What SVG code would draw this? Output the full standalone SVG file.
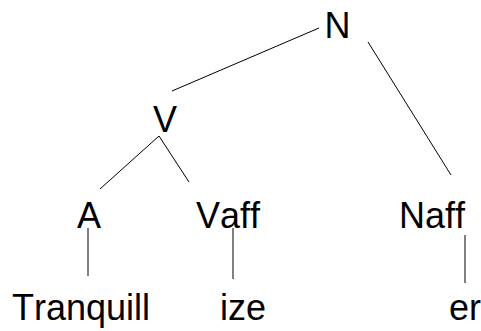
<svg xmlns="http://www.w3.org/2000/svg" width="481" height="331" viewBox="0 0 481 331">
<style>
text { font-family: "Liberation Sans", Arial, sans-serif; font-size: 36px; fill: #000; font-kerning: none; }
.edge { stroke: #000; stroke-width: 1; fill: none; }
</style>
<rect width="481" height="331" fill="#fff"/>
<g id="connectors">
<line class="edge" x1="319" y1="28" x2="172" y2="91"/>
<line class="edge" x1="368" y1="42" x2="451" y2="175"/>
<line class="edge" x1="159" y1="136" x2="100" y2="189"/>
<line class="edge" x1="159" y1="136" x2="189" y2="182"/>
<line class="edge" x1="88" y1="228" x2="88" y2="276"/>
<line class="edge" x1="233" y1="228" x2="233" y2="279"/>
<line class="edge" x1="465" y1="235" x2="465" y2="283"/>
</g>
<g id="node-N"><text x="324.5" y="38">N</text></g>
<g id="node-V"><text x="153" y="132">V</text></g>
<g id="node-A"><text x="77" y="228">A</text></g>
<g id="node-Vaff"><text x="196" y="228">Vaff</text></g>
<g id="node-Naff"><text x="399" y="228">Naff</text></g>
<g id="node-Tranquill"><text x="12" y="320">Tranquill</text></g>
<g id="node-ize"><text x="220" y="320">ize</text></g>
<g id="node-er"><text x="449" y="320">er</text></g>
</svg>
